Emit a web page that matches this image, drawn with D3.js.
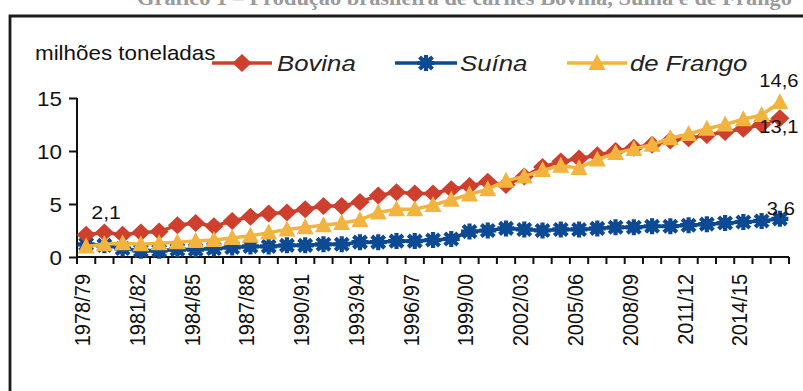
<!DOCTYPE html>
<html>
<head>
<meta charset="utf-8">
<script src="https://cdn.jsdelivr.net/npm/d3@7"></script>
<style>
  html, body { margin: 0; padding: 0; background: #fff; }
  svg { display: block; }
  text { font-family: "Liberation Sans", Arial, sans-serif; fill: #111; }
</style>
</head>
<body>
<svg id="chart" width="803" height="391"></svg>
<script>
// Safra years (Brazilian crop-year notation)
const anos = [
  "1978/79","1979/80","1980/81","1981/82","1982/83","1983/84","1984/85","1985/86",
  "1986/87","1987/88","1988/89","1989/90","1990/91","1991/92","1992/93","1993/94",
  "1994/95","1995/96","1996/97","1997/98","1998/99","1999/00","2000/01","2001/02",
  "2002/03","2003/04","2004/05","2005/06","2006/07","2007/08","2008/09","2009/10",
  "2010/11","2011/12","2012/13","2013/14","2014/15","2015/16","2016/17"
];
// Production, millions of tonnes
const bovina = [2.1,2.3,2.1,2.3,2.4,3.0,3.2,2.9,3.4,3.8,4.1,4.2,4.5,4.8,4.8,5.2,5.8,6.1,6.0,6.0,
                6.4,6.7,7.1,6.8,7.6,8.5,9.0,9.3,9.6,10.0,10.3,10.6,11.0,11.2,11.5,11.8,12.1,12.5,13.1];
const suina  = [1.2,1.1,0.8,0.6,0.6,0.7,0.7,0.8,0.9,1.0,1.0,1.1,1.1,1.2,1.2,1.4,1.4,1.5,1.5,1.6,
                1.7,2.4,2.5,2.7,2.6,2.5,2.6,2.6,2.7,2.8,2.8,2.9,2.9,3.0,3.1,3.2,3.3,3.4,3.6];
const frango = [1.0,1.2,1.3,1.2,1.3,1.4,1.5,1.6,1.8,2.0,2.3,2.6,2.8,3.0,3.2,3.5,4.2,4.5,4.5,4.9,
                5.4,5.9,6.4,7.2,7.6,8.2,8.6,8.4,9.2,9.8,10.2,10.6,11.2,11.6,12.1,12.5,13.0,13.4,14.6];
const yTicks = [0, 5, 10, 15];
const unidade = "milhões toneladas";
const titulo = "Gráfico 1 – Produção brasileira de carnes Bovina, Suína e de Frango";

const series = [
  { nome: "Bovina",    valores: bovina, cor: "#cf3f2d", marca: "diamond"  },
  { nome: "Suína",     valores: suina,  cor: "#0d4a94", marca: "star"     },
  { nome: "de Frango", valores: frango, cor: "#f2b43e", marca: "triangle" }
];

const SX = 1.12; // horizontal glyph stretch used by all labels

const svg = d3.select("#chart");

// Frame around the figure
svg.append("path")
  .attr("d", "M10,391 L10,16 L803,16")
  .attr("fill", "none").attr("stroke", "#1a1a1a").attr("stroke-width", 2.8);

// Caption line running off the top edge
svg.append("text")
  .attr("transform", `translate(792,5) scale(${SX},1)`)
  .attr("text-anchor", "end")
  .style("font-family", "'Liberation Serif', serif")
  .style("font-weight", "bold")
  .style("font-size", "20px")
  .style("fill", "#9a9a9a")
  .text(titulo);

const x = d3.scaleBand().domain(anos).range([77, 789]).padding(0);
const y = d3.scaleLinear().domain([0, 15]).range([257, 98]);
const cx = d => x(d) + x.bandwidth() / 2;

// Y axis
const yAxis = svg.append("g").attr("transform", "translate(77,0)")
  .call(d3.axisLeft(y).tickValues(yTicks).tickSize(8).tickPadding(0).tickFormat(d3.format("d")));
yAxis.select(".domain").attr("stroke", "#111").attr("stroke-width", 2).attr("d", `M0,${y(15)}V${y(0)}`);
yAxis.selectAll(".tick line").attr("stroke", "#111").attr("stroke-width", 2);
yAxis.selectAll(".tick text")
  .attr("x", null).attr("dy", null)
  .attr("transform", `translate(-15,0) scale(${SX},1)`)
  .attr("text-anchor", "end").attr("dominant-baseline", "central")
  .style("font-size", "20px").style("fill", "#111");

// X axis: ticks between categories, a label every third year
const xAxis = svg.append("g").attr("transform", `translate(0,${y(0)})`)
  .call(d3.axisBottom(x).tickValues(anos.filter((d, i) => i % 3 === 0)).tickSize(0).tickPadding(0));
xAxis.select(".domain").attr("stroke", "#111").attr("stroke-width", 2).attr("d", `M77,0H789`);
xAxis.selectAll(".tick text")
  .attr("y", null).attr("dy", null)
  .attr("transform", `translate(-4,17) scale(${SX},1) rotate(-90)`)
  .attr("text-anchor", "end").attr("dominant-baseline", "central")
  .style("font-size", "20px").style("fill", "#111");
xAxis.selectAll(".bound")
  .data(d3.range(anos.length + 1))
  .join("line").attr("class", "bound")
  .attr("x1", i => x.range()[0] + i * x.step()).attr("x2", i => x.range()[0] + i * x.step())
  .attr("y1", 0).attr("y2", 7)
  .attr("stroke", "#111").attr("stroke-width", 2);

// Marker shapes
function marker(sel, tipo, cor) {
  if (tipo === "diamond") {
    sel.append("path").attr("d", "M0,-9 L9.5,0 L0,9 L-9.5,0 Z").attr("fill", cor);
  } else if (tipo === "triangle") {
    sel.append("path").attr("d", "M0,-9 L8.5,7 L-8.5,7 Z").attr("fill", cor);
  } else {
    sel.append("path")
      .attr("d", "M-8.5,0H8.5 M0,-8V8 M-6.5,-6L6.5,6 M-6.5,6L6.5,-6")
      .attr("stroke", cor).attr("stroke-width", 4.2).attr("fill", "none");
    sel.append("rect").attr("x", -5.5).attr("y", -5).attr("width", 11).attr("height", 10).attr("fill", cor);
  }
}

// Lines and markers (suína first so beef and chicken sit on top)
const ordem = [series[1], series[0], series[2]];
const line = d3.line().x((v, i) => cx(anos[i])).y(v => y(v));
ordem.forEach(s => {
  const g = svg.append("g");
  g.append("path").datum(s.valores).attr("d", line)
    .attr("fill", "none").attr("stroke", s.cor).attr("stroke-width", 3.5);
  g.selectAll(".m").data(s.valores).join("g").attr("class", "m")
    .attr("transform", (v, i) => `translate(${cx(anos[i])},${y(v)})`)
    .each(function () { marker(d3.select(this), s.marca, s.cor); });
});

// Value labels at the series ends
const ultimo = anos.length - 1;
const rotulo = (txt, px, py, size) => svg.append("text")
  .attr("transform", `translate(${px},${py}) scale(${SX},1)`)
  .attr("text-anchor", "middle").attr("dominant-baseline", "central")
  .style("font-size", size + "px").text(txt);
const fmt = v => d3.format(".1f")(v).replace(".", ",");
rotulo(fmt(bovina[0]), cx(anos[0]) + 20, y(bovina[0]) - 22, 19);
rotulo(fmt(frango[ultimo]), cx(anos[ultimo]) - 1, y(frango[ultimo]) - 21, 18);
rotulo(fmt(bovina[ultimo]), cx(anos[ultimo]) - 1, y(bovina[ultimo]) + 9, 18);
rotulo(fmt(suina[ultimo]), cx(anos[ultimo]) + 1, y(suina[ultimo]) - 10, 18);

// Unit label
svg.append("text").attr("transform", `translate(35,60) scale(${SX},1)`)
  .style("font-size", "20px").text(unidade);

// Legend
const leg = [
  { s: series[0], x0: 212, x1: 272, tx: 277 },
  { s: series[1], x0: 395, x1: 457, tx: 460 },
  { s: series[2], x0: 567, x1: 627, tx: 630 }
];
leg.forEach(l => {
  const g = svg.append("g");
  g.append("line").attr("x1", l.x0).attr("x2", l.x1).attr("y1", 63).attr("y2", 63)
    .attr("stroke", l.s.cor).attr("stroke-width", 3.5);
  const m = g.append("g").attr("transform", `translate(${(l.x0 + l.x1) / 2},63)`);
  marker(m, l.s.marca, l.s.cor);
  g.append("text").attr("transform", `translate(${l.tx},63) scale(${SX},1)`)
    .attr("dominant-baseline", "central")
    .style("font-size", "23px").style("font-style", "italic").style("fill", "#222")
    .text(l.s.nome);
});
</script>
</body>
</html>
